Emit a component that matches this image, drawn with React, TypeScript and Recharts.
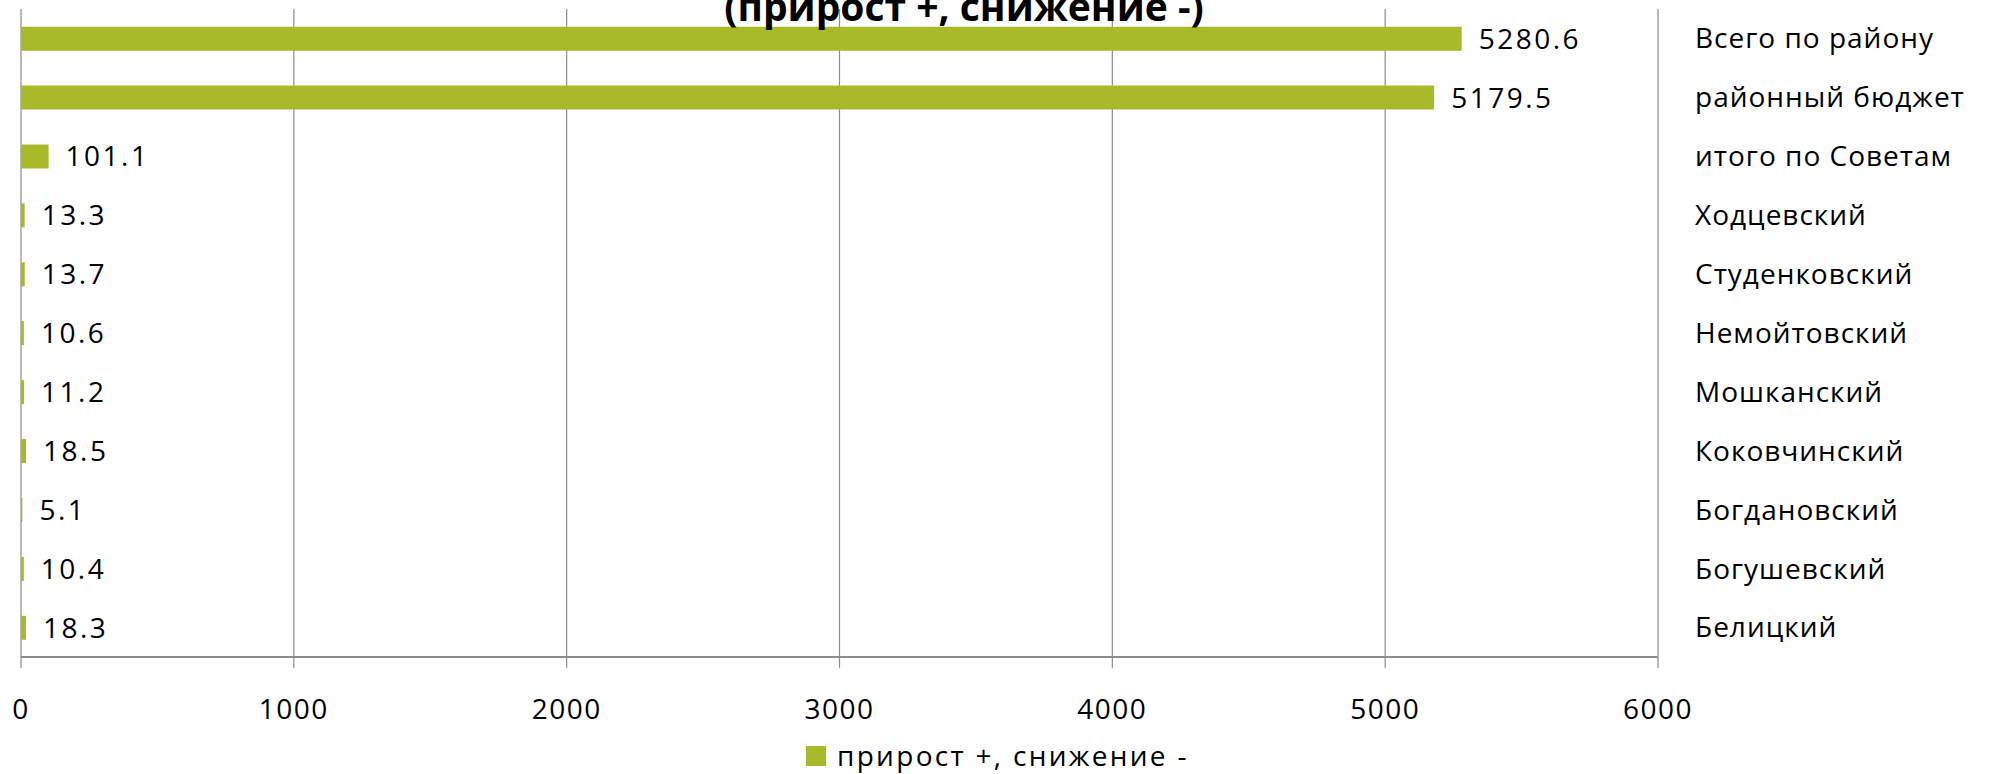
import React from 'react';
import { BarChart, Bar, XAxis, YAxis, CartesianGrid, LabelList } from 'recharts';

const categories = [
  'Всего по району',
  'районный бюджет',
  'итого по Советам',
  'Ходцевский',
  'Студенковский',
  'Немойтовский',
  'Мошканский',
  'Коковчинский',
  'Богдановский',
  'Богушевский',
  'Белицкий',
];
const values = [5280.6, 5179.5, 101.1, 13.3, 13.7, 10.6, 11.2, 18.5, 5.1, 10.4, 18.3];
const xTicks = [0, 1000, 2000, 3000, 4000, 5000, 6000];
const seriesName = 'прирост +, снижение -';
const titleText = '(прирост +, снижение -)';

const data = categories.map((name, i) => ({ name, value: values[i] }));

const FONT = '"Open Sans", "DejaVu Sans", sans-serif';
const BAR_COLOR = '#A8B92A';
const GRID = '#8C8C8C';

export default function App() {
  return (
    <div style={{ position: 'absolute', left: 0, top: 0, width: 1995, height: 774, background: '#fff', overflow: 'hidden' }}>
      <BarChart
        width={1995}
        height={774}
        data={data}
        layout="vertical"
        margin={{ top: 9, right: 0, left: 21, bottom: 77 }}
        barCategoryGap="30%"
      >
        <CartesianGrid horizontal={false} vertical stroke={GRID} strokeWidth={1.2} />
        <XAxis
          type="number"
          domain={[0, 6000]}
          ticks={xTicks}
          interval={0}
          height={40}
          axisLine={{ stroke: GRID, strokeWidth: 1.8 }}
          tickLine={{ stroke: GRID, strokeWidth: 1.2 }}
          tickSize={11}
          tickMargin={31}
          tick={{ fill: '#000', fontSize: 28, fontFamily: FONT, letterSpacing: 1.5 }}
        />
        <YAxis
          type="category"
          dataKey="name"
          orientation="right"
          width={337}
          axisLine={false}
          tickLine={false}
          tickSize={0}
          tickMargin={37}
          interval={0}
          tick={{ fill: '#000', fontSize: 28, fontFamily: FONT, letterSpacing: 1, textAnchor: 'start' }}
        />
        <Bar dataKey="value" name={seriesName} fill={BAR_COLOR} isAnimationActive={false}>
          <LabelList
            dataKey="value"
            position="right"
            offset={17}
            formatter={(v: number) => v.toFixed(1)}
            style={{ fill: '#000', fontSize: 28, fontFamily: FONT, letterSpacing: 2.5 }}
          />
        </Bar>
      </BarChart>
      <svg
        width={1995}
        height={774}
        style={{ position: 'absolute', left: 0, top: 0, pointerEvents: 'none' }}
      >
        <text x={964} y={21} textAnchor="middle" fontFamily={FONT} fontWeight="bold" fontSize={39} fill="#000">
          {titleText}
        </text>
        <rect x={806} y={746} width={20} height={20} fill={BAR_COLOR} />
        <text x={837} y={766} fontFamily={FONT} fontSize={28} letterSpacing={2.3} fill="#000">
          {seriesName}
        </text>
      </svg>
    </div>
  );
}
